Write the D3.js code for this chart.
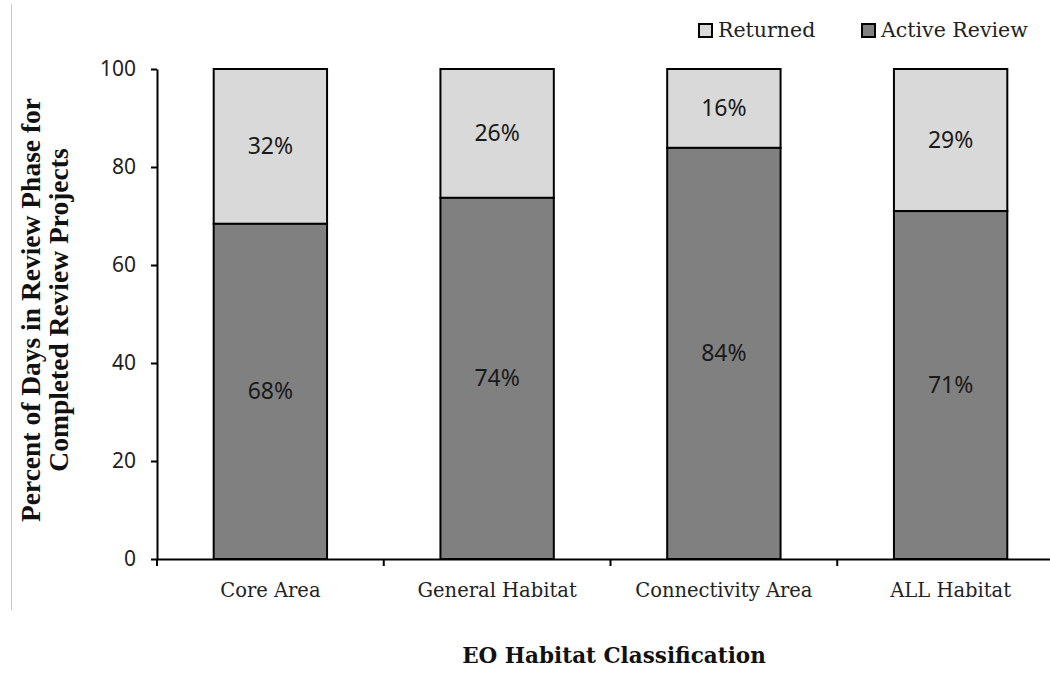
<!DOCTYPE html>
<html><head><meta charset="utf-8">
<script src="https://cdn.jsdelivr.net/npm/d3@7"></script>
<style>body{margin:0;background:#fff}svg{display:block}</style>
</head><body><svg id="c" width="1050" height="675"></svg>
<script>
const categories = ["Core Area", "General Habitat", "Connectivity Area", "ALL Habitat"];
const activeReview = [68.4, 73.7, 83.9, 71.0];
const returned = [31.6, 26.3, 16.1, 29.0];
const activeLabels = ["68%", "74%", "84%", "71%"];
const returnedLabels = ["32%", "26%", "16%", "29%"];
const yTicks = [0, 20, 40, 60, 80, 100];
const seriesNames = ["Returned", "Active Review"];
const colors = {"Returned": "#d9d9d9", "Active Review": "#808080"};

(function(){
const svg = d3.select("#c");
const mLeft = 157, mRight = 1064, mTop = 69, mBottom = 559;
const x = d3.scaleBand().domain(categories).range([mLeft, mRight]).paddingInner(0.5).paddingOuter(0.25);
const y = d3.scaleLinear().domain([0, 100]).range([mBottom, mTop]);

svg.append("line").attr("x1", 11.5).attr("x2", 11.5).attr("y1", 4).attr("y2", 610)
  .attr("stroke", "#c8c8c8").attr("stroke-width", 1);

const serif = "'DejaVu Serif', serif";
const sans = "'Noto Sans', 'Open Sans', sans-serif";

categories.forEach((c, i) => {
  const a = activeReview[i], r = returned[i];
  svg.append("rect").attr("x", x(c)).attr("y", y(a + r)).attr("width", x.bandwidth())
    .attr("height", y(a) - y(a + r)).attr("fill", colors["Returned"]).attr("stroke", "#000").attr("stroke-width", 2);
  svg.append("rect").attr("x", x(c)).attr("y", y(a)).attr("width", x.bandwidth())
    .attr("height", y(0) - y(a)).attr("fill", colors["Active Review"]).attr("stroke", "#000").attr("stroke-width", 2);
  svg.append("text").attr("x", x(c) + x.bandwidth() / 2).attr("y", y(a / 2)).attr("dy", "0.35em")
    .attr("text-anchor", "middle").attr("font-family", sans).attr("font-size", 23).attr("fill", "#1a1a1a").text(activeLabels[i]);
  svg.append("text").attr("x", x(c) + x.bandwidth() / 2).attr("y", y(a + r / 2)).attr("dy", "0.35em")
    .attr("text-anchor", "middle").attr("font-family", sans).attr("font-size", 23).attr("fill", "#1a1a1a").text(returnedLabels[i]);
});

const yAxis = svg.append("g").attr("transform", `translate(${mLeft},0)`)
  .call(d3.axisLeft(y).tickValues(yTicks).tickSize(6).tickSizeOuter(0));
yAxis.select(".domain").attr("stroke", "#000").attr("stroke-width", 2);
yAxis.selectAll(".tick line").attr("stroke", "#000").attr("stroke-width", 2);
yAxis.selectAll(".tick text").attr("font-family", sans).attr("font-size", 21).attr("fill", "#222").attr("x", -21);

const xAxis = svg.append("g").attr("transform", `translate(0,${mBottom})`)
  .call(d3.axisBottom(x).tickSize(0).tickSizeOuter(0));
xAxis.select(".domain").attr("stroke", "#000").attr("stroke-width", 2);
xAxis.selectAll(".tick text").attr("font-family", serif).attr("font-size", 19.5).attr("fill", "#222")
  .attr("y", 38).attr("dy", 0);
const bounds = categories.map(c => x(c) - x.step() * x.paddingInner() / 2).concat([mRight]);
svg.append("g").selectAll("line").data(bounds).join("line")
  .attr("x1", d => d).attr("x2", d => d).attr("y1", mBottom).attr("y2", mBottom + 7)
  .attr("stroke", "#000").attr("stroke-width", 2);

svg.append("text").attr("x", 614).attr("y", 663).attr("text-anchor", "middle")
  .attr("font-family", serif).attr("font-weight", "bold").attr("font-size", 21.5).attr("fill", "#111")
  .text("EO Habitat Classification");
const yt = svg.append("text").attr("transform", "translate(0,310) rotate(-90)")
  .attr("text-anchor", "middle").attr("font-family", "'Liberation Serif', serif").attr("font-weight", "bold")
  .attr("font-size", 27.5).attr("fill", "#111");
yt.append("tspan").attr("x", 0).attr("y", 40).text("Percent of Days in Review Phase for");
yt.append("tspan").attr("x", 0).attr("y", 68).text("Completed Review Projects");

const legX = [699, 862];
seriesNames.forEach((s, i) => {
  svg.append("rect").attr("x", legX[i]).attr("y", 24).attr("width", 13).attr("height", 13)
    .attr("fill", colors[s]).attr("stroke", "#000").attr("stroke-width", 2);
  svg.append("text").attr("x", legX[i] + 19).attr("y", 37)
    .attr("font-family", serif).attr("font-size", 20.5).attr("fill", "#222").text(s);
});
})();
</script></body></html>
